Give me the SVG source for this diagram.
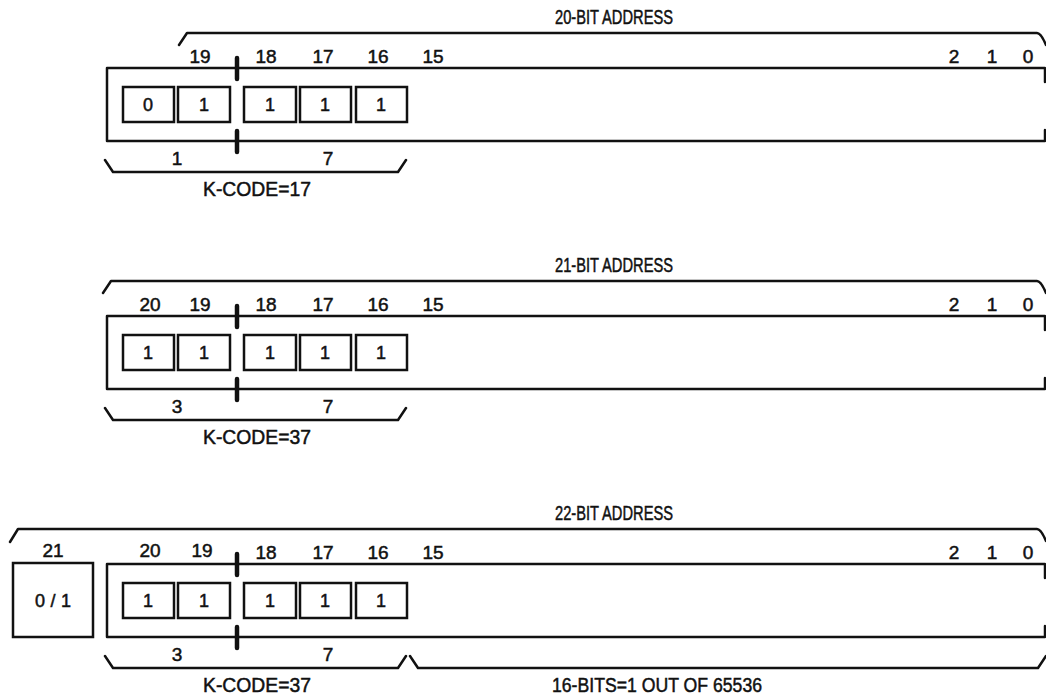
<svg xmlns="http://www.w3.org/2000/svg" width="1046" height="700" viewBox="0 0 1046 700">
<style>
.ln{fill:none;stroke:#111;stroke-width:2.5;stroke-linejoin:round;stroke-linecap:round}
.bx{fill:#fff;stroke:#111;stroke-width:2.5}
.dv{stroke:#111;stroke-width:4.5;stroke-linecap:round}
text{font-family:"Liberation Sans",Arial,sans-serif;font-size:19px;fill:#111;stroke:#111;stroke-width:0.5;text-anchor:middle}
.bt{font-size:18px}
.lb{font-size:20px}
</style>
<defs>
<g id="regbody">
<path class="ln" d="M1045,82 V68 H107 V141 H1045 V130"/>
<rect class="bx" x="123" y="87" width="51" height="35"/>
<rect class="bx" x="178" y="87" width="52" height="35"/>
<rect class="bx" x="244" y="87" width="52" height="35"/>
<rect class="bx" x="300" y="87" width="51" height="35"/>
<rect class="bx" x="356" y="87" width="51" height="35"/>
<line class="dv" x1="237" y1="58" x2="237" y2="79"/>
<line class="dv" x1="237" y1="131" x2="237" y2="152"/>
<path class="ln" d="M105,160 L113,172 H398 L406,160"/>
<text x="266" y="63">18</text>
<text x="323" y="63">17</text>
<text x="378" y="63">16</text>
<text x="433" y="63">15</text>
<text x="954" y="63">2</text>
<text x="992" y="63">1</text>
<text x="1028" y="63">0</text>
<text class="bt" x="204" y="111">1</text>
<text class="bt" x="270" y="111">1</text>
<text class="bt" x="325" y="111">1</text>
<text class="bt" x="381" y="111">1</text>
<text x="328" y="165">7</text>
</g>
</defs>

<g id="section-20bit">
<use href="#regbody"/>
<path class="ln" d="M179,45 L187,33 H1037 Q1041,33 1046,45"/>
<text class="lb" x="614" y="24" textLength="118" lengthAdjust="spacingAndGlyphs">20-BIT ADDRESS</text>
<text x="200" y="63">19</text>
<text class="bt" x="148" y="111">0</text>
<text x="177" y="165">1</text>
<text class="lb" x="257" y="196" textLength="108" lengthAdjust="spacingAndGlyphs">K-CODE=17</text>
</g>

<g id="section-21bit" transform="translate(0,248)">
<use href="#regbody"/>
<path class="ln" d="M103,45 L111,33 H1037 Q1041,33 1046,45"/>
<text class="lb" x="614" y="24" textLength="118" lengthAdjust="spacingAndGlyphs">21-BIT ADDRESS</text>
<text x="150" y="63">20</text>
<text x="200" y="63">19</text>
<text class="bt" x="148" y="111">1</text>
<text x="177" y="165">3</text>
<text class="lb" x="257" y="196" textLength="108" lengthAdjust="spacingAndGlyphs">K-CODE=37</text>
</g>

<g id="section-22bit" transform="translate(0,496)">
<use href="#regbody"/>
<path class="ln" d="M10,46 L18,33 H1037 Q1041,33 1046,45"/>
<text class="lb" x="614" y="24" textLength="118" lengthAdjust="spacingAndGlyphs">22-BIT ADDRESS</text>
<text x="53" y="61">21</text>
<text x="150" y="61">20</text>
<text x="202" y="61">19</text>
<rect class="bx" x="13" y="67" width="80" height="74"/>
<text class="bt" x="53" y="111" textLength="36" lengthAdjust="spacing">0/1</text>
<text class="bt" x="148" y="111">1</text>
<text x="177" y="165">3</text>
<text class="lb" x="257" y="196" textLength="108" lengthAdjust="spacingAndGlyphs">K-CODE=37</text>
<path class="ln" d="M410,160 L418,172 H1038 L1046,160"/>
<text class="lb" x="657" y="196" textLength="210" lengthAdjust="spacingAndGlyphs">16-BITS=1 OUT OF 65536</text>
</g>
</svg>
